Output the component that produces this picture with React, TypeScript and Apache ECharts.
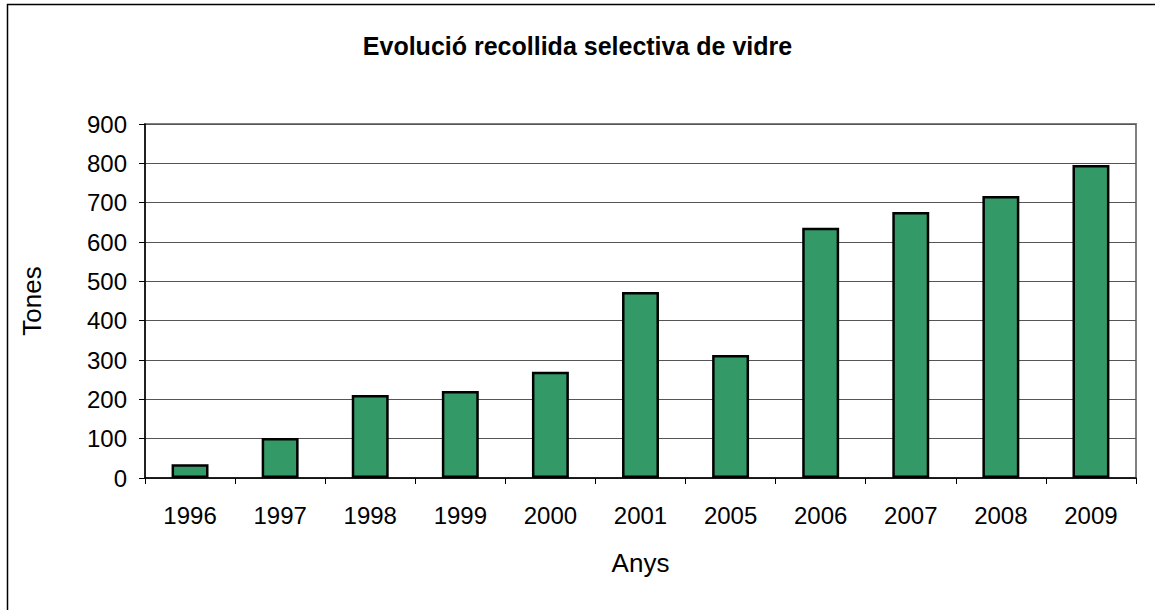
import React, { useEffect, useRef } from "react";
import * as echarts from "echarts";

const title = "Evolució recollida selectiva de vidre";
const years = ["1996", "1997", "1998", "1999", "2000", "2001", "2005", "2006", "2007", "2008", "2009"];
const tones = [35, 102, 211, 221, 270, 473, 313, 636, 676, 717, 796];
const xName = "Anys";
const yName = "Tones";

export default function App() {
  const ref = useRef<HTMLDivElement>(null);
  useEffect(() => {
    if (!ref.current) return;
    const chart = echarts.init(ref.current, null, { renderer: "svg" });
    const font = "'Liberation Sans', Arial, sans-serif";
    chart.setOption({
      animation: false,
      backgroundColor: "#fff",
      title: {
        text: title,
        left: "center",
        top: 28,
        textStyle: { fontFamily: font, fontSize: 25, fontWeight: "bold", color: "#000" },
      },
      graphic: [
        {
          type: "rect",
          shape: { x: 7.5, y: 4.5, width: 1200, height: 700 },
          style: { fill: "none", stroke: "#000", lineWidth: 1.5 },
          silent: true,
        },
      ],
      grid: {
        left: 145,
        right: 19,
        top: 124,
        bottom: 132,
        show: true,
        borderColor: "#808080",
        borderWidth: 2,
        backgroundColor: "transparent",
      },
      xAxis: {
        type: "category",
        data: years,
        name: xName,
        nameLocation: "middle",
        nameGap: 72,
        nameTextStyle: { fontFamily: font, fontSize: 26, color: "#000" },
        axisLine: { show: true, lineStyle: { color: "#000", width: 1.5 } },
        axisTick: { show: true, interval: 0, length: 6, lineStyle: { color: "#000" } },
        axisLabel: { fontFamily: font, fontSize: 24, color: "#000", margin: 25, interval: 0 },
      },
      yAxis: {
        type: "value",
        min: 0,
        max: 900,
        interval: 100,
        name: yName,
        nameLocation: "middle",
        nameGap: 100,
        nameRotate: 90,
        nameTextStyle: { fontFamily: font, fontSize: 26, color: "#000" },
        axisLine: { show: true, lineStyle: { color: "#000", width: 1.5 } },
        axisTick: { show: true, length: 6, lineStyle: { color: "#000" } },
        axisLabel: { fontFamily: font, fontSize: 24, color: "#000", margin: 18 },
        splitLine: { show: true, lineStyle: { color: "#555", width: 1 } },
      },
      series: [
        {
          type: "bar",
          data: tones,
          barWidth: "41%",
          itemStyle: { color: "#339966", borderColor: "#000", borderWidth: 2.5 },
        },
      ],
    });
    return () => chart.dispose();
  }, []);
  return (
    <div
      ref={ref}
      style={{ position: "absolute", left: 0, top: 0, width: 1155, height: 610 }}
    />
  );
}
